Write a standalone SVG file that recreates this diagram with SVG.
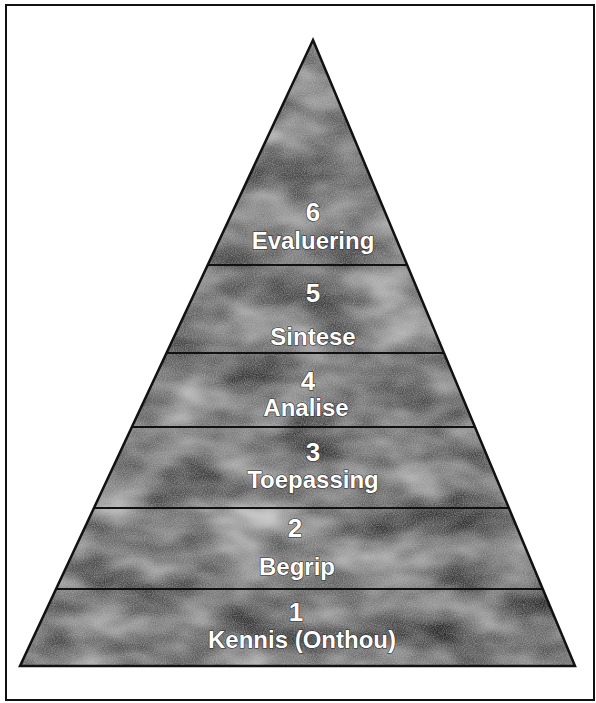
<svg xmlns="http://www.w3.org/2000/svg" width="596" height="703" viewBox="0 0 596 703">
  <style>
    .num { font-family: "Liberation Sans", Arial, sans-serif; font-weight: bold; font-size: 26px; fill: #ffffff; text-anchor: middle; stroke: #2a2a2a; stroke-width: 1.2px; paint-order: stroke; }
    .lbl { font-family: "Liberation Sans", Arial, sans-serif; font-weight: bold; font-size: 24px; fill: #ffffff; text-anchor: middle; stroke: #2a2a2a; stroke-width: 1.2px; paint-order: stroke; }
    .divider { stroke: #111111; stroke-width: 2.2; fill: none; }
  </style>
  <defs>
    <clipPath id="pyrClip">
      <polygon points="313,40 575,666 20,666"/>
    </clipPath>
    <filter id="mottle" x="0" y="0" width="100%" height="100%" color-interpolation-filters="sRGB">
      <feTurbulence type="fractalNoise" baseFrequency="0.014 0.026" numOctaves="3" seed="7" result="big"/>
      <feColorMatrix in="big" type="matrix" values="0.8 0 0 0 0.06  0.8 0 0 0 0.06  0.8 0 0 0 0.06  0 0 0 0 1" result="bigG"/>
      <feTurbulence type="fractalNoise" baseFrequency="0.9" numOctaves="1" seed="3" result="fine"/>
      <feColorMatrix in="fine" type="matrix" values="0 0 0 0 0.8  0 0 0 0 0.8  0 0 0 0 0.8  0.9 0 0 0 -0.32" result="fineA"/>
      <feComposite in="fineA" in2="bigG" operator="over"/>
    </filter>
  </defs>

  <rect x="6" y="5" width="588" height="695" fill="#ffffff" stroke="#111111" stroke-width="2"/>

  <g id="pyramid-fill" clip-path="url(#pyrClip)">
    <rect x="20" y="40" width="556" height="627" fill="#777777" filter="url(#mottle)"/>
  </g>

  <g id="connectors">
    <line class="divider" x1="207.7" y1="265" x2="407.2" y2="265"/>
    <line class="divider" x1="166.5" y1="353" x2="444" y2="353"/>
    <line class="divider" x1="131.9" y1="427" x2="475" y2="427"/>
    <line class="divider" x1="94" y1="508" x2="508.9" y2="508"/>
    <line class="divider" x1="56.1" y1="589" x2="542.8" y2="589"/>
  </g>

  <polygon id="pyramid-outline" points="313,40 575,666 20,666" fill="none" stroke="#111111" stroke-width="2.5" stroke-linejoin="miter"/>

  <g id="level6">
    <text class="num" x="313" y="221">6</text>
    <text class="lbl" x="313" y="249">Evaluering</text>
  </g>
  <g id="level5">
    <text class="num" x="313" y="302">5</text>
    <text class="lbl" x="313" y="345">Sintese</text>
  </g>
  <g id="level4">
    <text class="num" x="308" y="390">4</text>
    <text class="lbl" x="306" y="416">Analise</text>
  </g>
  <g id="level3">
    <text class="num" x="313" y="461">3</text>
    <text class="lbl" x="313" y="488">Toepassing</text>
  </g>
  <g id="level2">
    <text class="num" x="295" y="537">2</text>
    <text class="lbl" x="297" y="575">Begrip</text>
  </g>
  <g id="level1">
    <text class="num" x="296" y="621">1</text>
    <text class="lbl" x="302" y="648">Kennis (Onthou)</text>
  </g>
</svg>
